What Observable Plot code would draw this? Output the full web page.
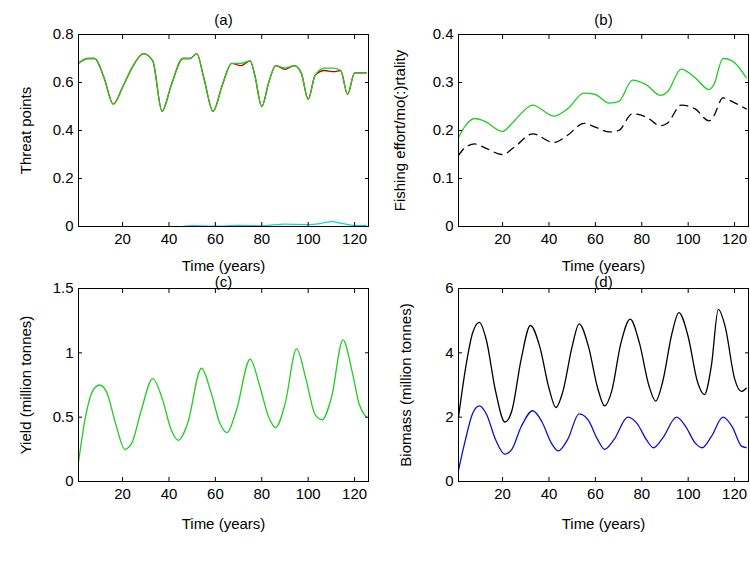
<!DOCTYPE html>
<html><head><meta charset="utf-8">
<script src="https://cdn.jsdelivr.net/npm/d3@7"></script>
<script src="https://cdn.jsdelivr.net/npm/@observablehq/plot@0.6"></script>
<style>
body{margin:0;background:#fff;font-family:"Liberation Sans",Arial,sans-serif}
#wrap{position:relative;width:750px;height:561px}
#wrap>div{position:absolute}
#wrap svg{background:transparent !important}
</style></head><body>
<div id="wrap"><div id="pa" style="left:0;top:0"></div><div id="pb" style="left:375px;top:0"></div>
<div id="pc" style="left:0;top:258px"></div><div id="pd" style="left:375px;top:258px"></div></div>
<script>
// (a) threat points
const aT = [1,5,8,12,16,20,24,29,33,37,41,46,49,52,55,59,63,67,71,75,77,80,83,86,90,94,97,100,103,107,111,114,117,120,125];
const aGreen = [0.68,0.70,0.70,0.62,0.51,0.58,0.66,0.72,0.69,0.48,0.59,0.70,0.70,0.72,0.62,0.48,0.59,0.68,0.68,0.69,0.63,0.50,0.60,0.67,0.66,0.67,0.64,0.53,0.63,0.66,0.66,0.65,0.55,0.64,0.64];
const aRed   = [0.68,0.70,0.70,0.62,0.51,0.58,0.66,0.72,0.69,0.48,0.59,0.70,0.70,0.72,0.62,0.48,0.59,0.68,0.67,0.69,0.63,0.50,0.60,0.67,0.655,0.67,0.64,0.53,0.63,0.65,0.645,0.65,0.55,0.64,0.64];
const cyT = [46,50,60,70,80,90,100,105,110,115,120,125];
const aCyan = [0,0.004,0.001,0.005,0.003,0.01,0.008,0.012,0.02,0.012,0.004,0.005];
// (b) fishing effort / mortality
const bT = [1,4,8,12,20,25,33,42,48,55,60,66,70,76,82,88,91,97,103,109,111,115,119,125];
const bEffort = [0.185,0.21,0.225,0.22,0.198,0.22,0.253,0.23,0.245,0.278,0.275,0.257,0.26,0.305,0.295,0.273,0.28,0.328,0.31,0.285,0.295,0.35,0.345,0.31];
const bMort   = [0.148,0.165,0.172,0.165,0.15,0.165,0.193,0.175,0.19,0.215,0.207,0.197,0.2,0.235,0.228,0.21,0.215,0.253,0.245,0.22,0.23,0.268,0.26,0.245];
// (c) yield
const cT = [1,4,7,10,13,17,21,24,28,33,37,41,44,48,54,58,62,65,69,75,79,83,86,90,95,99,103,106,110,115,119,122,125];
const cYield = [0.15,0.5,0.7,0.75,0.7,0.45,0.25,0.3,0.55,0.8,0.65,0.4,0.32,0.45,0.88,0.7,0.45,0.38,0.55,0.95,0.75,0.5,0.42,0.6,1.03,0.8,0.52,0.48,0.65,1.1,0.85,0.6,0.5];
// (d) biomass
const dT = [1,4,7,10,13,17,21,24,28,32,36,40,43,46,50,53,57,61,64,67,71,75,79,83,86,89,93,96,100,104,107,110,113,116,120,123,125];
const dBlack = [2.0,3.5,4.6,4.95,4.4,2.8,1.85,2.2,3.8,4.85,4.2,2.9,2.3,2.8,4.2,4.9,4.2,2.9,2.35,2.8,4.3,5.05,4.3,3.0,2.5,3.1,4.6,5.25,4.5,3.1,2.7,3.6,5.35,4.8,3.2,2.8,2.9];
const eT = [1,4,7,10,13,17,21,24,28,33,37,41,44,48,53,57,61,64,68,74,78,82,85,89,95,99,103,106,110,115,119,123,125];
const dBlue = [0.35,1.3,2.1,2.35,2.1,1.3,0.85,1.0,1.7,2.2,1.85,1.2,0.95,1.3,2.1,1.9,1.3,1.0,1.3,2.0,1.8,1.3,1.05,1.35,2.0,1.7,1.2,1.05,1.4,2.0,1.7,1.1,1.05];

const pts = (t, v) => t.map((x, i) => ({x, y: v[i]}));

function panel(id, o) {
  const m = o.marks.map(([t, v, opts]) => Plot.line(pts(t, v), {x: "x", y: "y", strokeWidth: 1.3, curve: "monotone-x", ...opts}));
  const chart = Plot.plot({
    width: 375, height: o.h, marginTop: o.mt, marginBottom: o.mb, marginLeft: o.ml, marginRight: o.mr,
    style: {fontSize: "15px", fontFamily: "Liberation Sans, Arial, sans-serif", color: "#000", background: "transparent", overflow: "visible"},
    x: {domain: [1, 126], ticks: [20,40,60,80,100,120]},
    y: {domain: o.yd, ticks: o.yt},
    marks: [
      ...m,
      Plot.frame({stroke: "#000", strokeWidth: 1}),
      Plot.axisX({anchor: "bottom", ticks: [20,40,60,80,100,120], tickSize: -4, tickPadding: 11, label: "Time (years)", labelAnchor: "center", labelArrow: "none", labelOffset: o.xo}),
      Plot.axisX({anchor: "top", ticks: [20,40,60,80,100,120], tickSize: -4, tickFormat: () => "", label: null}),
      Plot.axisY({anchor: "left", ticks: o.yt, tickSize: -4, tickPadding: 9, tickFormat: o.fmt, label: o.yl, labelAnchor: "center", labelArrow: "none", labelOffset: o.lo}),
      Plot.axisY({anchor: "right", ticks: o.yt, tickSize: -4, tickFormat: () => "", label: null}),
      Plot.text([o.title], {frameAnchor: "top", dy: -o.mt + o.ty, text: d => d, fontSize: 15})
    ]
  });
  document.getElementById(id).append(chart);
}

panel("pa", {h: 258, mt: 34, mb: 32, ml: 78, mr: 7, xo: 44, yd: [0, 0.8], yt: [0,0.2,0.4,0.6,0.8], fmt: d => d === 0 ? "0" : d3.format(".1f")(d), yl: "Threat points", lo: 58, title: "(a)", ty: 14,
  marks: [[aT, aRed, {stroke: "#c00000"}], [aT, aGreen, {stroke: "#22cc22"}], [cyT, aCyan, {stroke: "#00dddd"}]]});
panel("pb", {h: 258, mt: 34, mb: 32, ml: 83, mr: 2, xo: 44, yd: [0, 0.4], yt: [0,0.1,0.2,0.3,0.4], fmt: d => d === 0 ? "0" : d3.format(".1f")(d), yl: "Fishing effort/mo(:)rtality", lo: 64, title: "(b)", ty: 14,
  marks: [[bT, bEffort, {stroke: "#22cc22"}], [bT, bMort, {stroke: "#000", strokeDasharray: "8,6"}]]});
panel("pc", {h: 303, mt: 30, mb: 80, ml: 78, mr: 7, xo: 47, yd: [0, 1.5], yt: [0,0.5,1,1.5], fmt: d => String(d), yl: "Yield (million tonnes)", lo: 58, title: "(c)", ty: 18,
  marks: [[cT, cYield, {stroke: "#22cc22"}]]});
panel("pd", {h: 303, mt: 30, mb: 80, ml: 83, mr: 2, xo: 47, yd: [0, 6], yt: [0,2,4,6], fmt: d => String(d), yl: "Biomass (million tonnes)", lo: 58, title: "(d)", ty: 18,
  marks: [[dT, dBlack, {stroke: "#000"}], [eT, dBlue, {stroke: "#1010cc"}]]});
</script></body></html>
